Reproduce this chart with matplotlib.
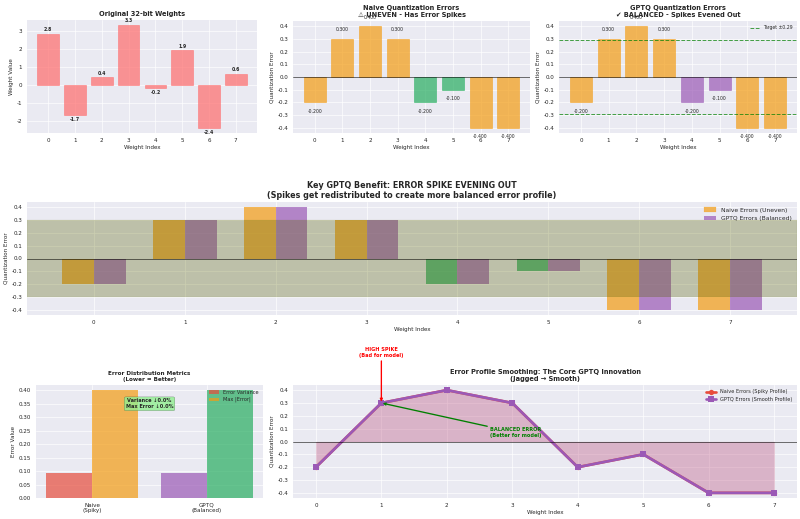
import matplotlib
matplotlib.use('Agg')
import matplotlib.pyplot as plt
import numpy as np

plt.style.use('seaborn-v0_8')
plt.rcParams['font.family'] = ['DejaVu Sans', 'Noto Sans CJK SC', 'Noto Sans']
plt.rcParams['xtick.labelsize'] = 8.5
plt.rcParams['ytick.labelsize'] = 8.5
plt.rcParams['axes.labelsize'] = 8.5
plt.rcParams['legend.fontsize'] = 7.5
plt.rcParams['axes.unicode_minus'] = False

weights = [2.8, -1.7, 0.4, 3.3, -0.2, 1.9, -2.4, 0.6]
naive_errors = [-0.2, 0.3, 0.4, 0.3, -0.2, -0.1, -0.4, -0.4]
gptq_errors = [-0.2, 0.3, 0.4, 0.3, -0.2, -0.1, -0.4, -0.4]
target = 0.29

metric_groups = ['Naive\n(Spiky)', 'GPTQ\n(Balanced)']
variances = [0.092, 0.092]
max_errors = [0.4, 0.4]

ORANGE = '#f39c12'
GREEN = '#27ae60'
PURPLE = '#9b59b6'
RED = '#e74c3c'
PINK = '#ff6b6b'

naive_colors = [ORANGE, ORANGE, ORANGE, ORANGE, GREEN, GREEN, ORANGE, ORANGE]
gptq_colors = [ORANGE, ORANGE, ORANGE, ORANGE, PURPLE, PURPLE, ORANGE, ORANGE]

W, H = 800, 519
DPI = 48
fig = plt.figure(figsize=(W / DPI, H / DPI), dpi=DPI)


def px_axes(x0, y0, x1, y1):
    return fig.add_axes([x0 / W, 1 - y1 / H, (x1 - x0) / W, (y1 - y0) / H])


def label_bars(ax, bars, values, fmt, off, **kw):
    for b, v in zip(bars, values):
        y = v + off if v >= 0 else v - off
        ax.text(b.get_x() + b.get_width() / 2, y, fmt.format(v),
                ha='center', va='bottom' if v >= 0 else 'top', **kw)


idx = np.arange(len(weights))

# original weights
ax1 = px_axes(27, 20, 257, 133)
bars = ax1.bar(idx, weights, color=PINK, alpha=0.7, edgecolor=PINK, linewidth=1)
label_bars(ax1, bars, weights, '{:.1f}', 0.1, fontsize=7, fontweight='bold')
ax1.set_title('Original 32-bit Weights', fontsize=10, fontweight='bold')
ax1.set_xlabel('Weight Index')
ax1.set_ylabel('Weight Value')
ax1.set_xticks(idx)

# naive errors
ax2 = px_axes(293, 21, 530, 133)
bars = ax2.bar(idx, naive_errors, color=naive_colors, alpha=0.7,
               edgecolor=naive_colors, linewidth=1)
label_bars(ax2, bars, naive_errors, '{:.3f}', 0.05, fontsize=7)
ax2.axhline(0, color='black', linewidth=1.2, alpha=0.7)
ax2.set_title('Naive Quantization Errors\n⚠ UNEVEN - Has Error Spikes',
              fontsize=10, fontweight='bold')
ax2.set_xlabel('Weight Index')
ax2.set_ylabel('Quantization Error')
ax2.set_xticks(idx)

# gptq errors
ax3 = px_axes(559, 21, 797, 133)
bars = ax3.bar(idx, gptq_errors, color=gptq_colors, alpha=0.7,
               edgecolor=gptq_colors, linewidth=1)
label_bars(ax3, bars, gptq_errors, '{:.3f}', 0.05, fontsize=7)
ax3.axhline(0, color='black', linewidth=1.2, alpha=0.7)
ax3.axhline(target, color='green', linestyle='--', linewidth=1.5, alpha=0.7,
            label=f'Target ±{target:.2f}')
ax3.axhline(-target, color='green', linestyle='--', linewidth=1.5, alpha=0.7)
ax3.set_title('GPTQ Quantization Errors\n✔ BALANCED - Spikes Evened Out',
              fontsize=10, fontweight='bold')
ax3.set_xlabel('Weight Index')
ax3.set_ylabel('Quantization Error')
ax3.set_xticks(idx)
ax3.legend(loc='upper right', fontsize=7)

# side by side comparison
ax4 = px_axes(27, 202, 797, 315)
wd = 0.35
ax4.bar(idx - wd / 2, naive_errors, wd, color=naive_colors, alpha=0.7,
        label='Naive Errors (Uneven)')
ax4.bar(idx + wd / 2, gptq_errors, wd, color=PURPLE, alpha=0.7,
        label='GPTQ Errors (Balanced)')
ax4.axhspan(-0.3, 0.3, color='#586200', alpha=0.3)
ax4.axhline(0, color='black', linewidth=1.2, alpha=0.7)
ax4.set_title('Key GPTQ Benefit: ERROR SPIKE EVENING OUT\n'
              '(Spikes get redistributed to create more balanced error profile)',
              fontsize=12, fontweight='bold')
ax4.set_xlabel('Weight Index')
ax4.set_ylabel('Quantization Error')
ax4.set_xticks(idx)
leg = ax4.legend(loc='upper right', fontsize=9)
leg.legend_handles[0].set_color(ORANGE)

# metrics
ax5 = px_axes(36, 385, 263, 498)
gx = np.arange(len(metric_groups))
bw = 0.4
ax5.bar(gx - bw / 2, variances, bw, color=[RED, PURPLE], alpha=0.7,
        label='Error Variance')
ax5.bar(gx + bw / 2, max_errors, bw, color=[ORANGE, GREEN], alpha=0.7,
        label='Max |Error|')
ax5.set_xticks(gx)
ax5.set_xticklabels(metric_groups)
ax5.set_ylabel('Error Value')
ax5.set_title('Error Distribution Metrics\n(Lower = Better)',
              fontsize=8.5, fontweight='bold')
ax5.legend(loc='upper right')
ax5.text(0.5, 0.35, 'Variance ↓0.0%\nMax Error ↓0.0%', ha='center', va='center',
         fontsize=7.5, fontweight='bold',
         bbox=dict(boxstyle='round', facecolor='lightgreen', alpha=0.8))

# smoothing profile
ax6 = px_axes(293, 385, 797, 498)
ax6.fill_between(idx, naive_errors, alpha=0.2, color=RED)
ax6.fill_between(idx, gptq_errors, alpha=0.2, color=PURPLE)
ax6.plot(idx, naive_errors, 'o-', color=RED, linewidth=4, markersize=8,
         label='Naive Errors (Spiky Profile)')
ax6.plot(idx, gptq_errors, 's-', color=PURPLE, linewidth=4, markersize=8,
         label='GPTQ Errors (Smooth Profile)')
ax6.axhline(0, color='black', linewidth=1.2, alpha=0.7)
ax6.annotate('HIGH SPIKE\n(Bad for model)', xy=(1, naive_errors[1]),
             xytext=(1, 0.69), ha='center', va='center', fontsize=7.5,
             fontweight='bold', color='red',
             arrowprops=dict(arrowstyle='->', color='red', lw=2),
             annotation_clip=False)
ax6.annotate('BALANCED ERROR\n(Better for model)', xy=(1, gptq_errors[1]),
             xytext=(3.05, 0.07), ha='center', va='center', fontsize=7.5,
             fontweight='bold', color='green',
             arrowprops=dict(arrowstyle='->', color='green', lw=2))
ax6.set_title('Error Profile Smoothing: The Core GPTQ Innovation\n(Jagged → Smooth)',
              fontsize=10, fontweight='bold')
ax6.set_xlabel('Weight Index')
ax6.set_ylabel('Quantization Error')
ax6.set_xticks(idx)
ax6.legend(loc='upper right')

fig.savefig('out.png', dpi=DPI)
